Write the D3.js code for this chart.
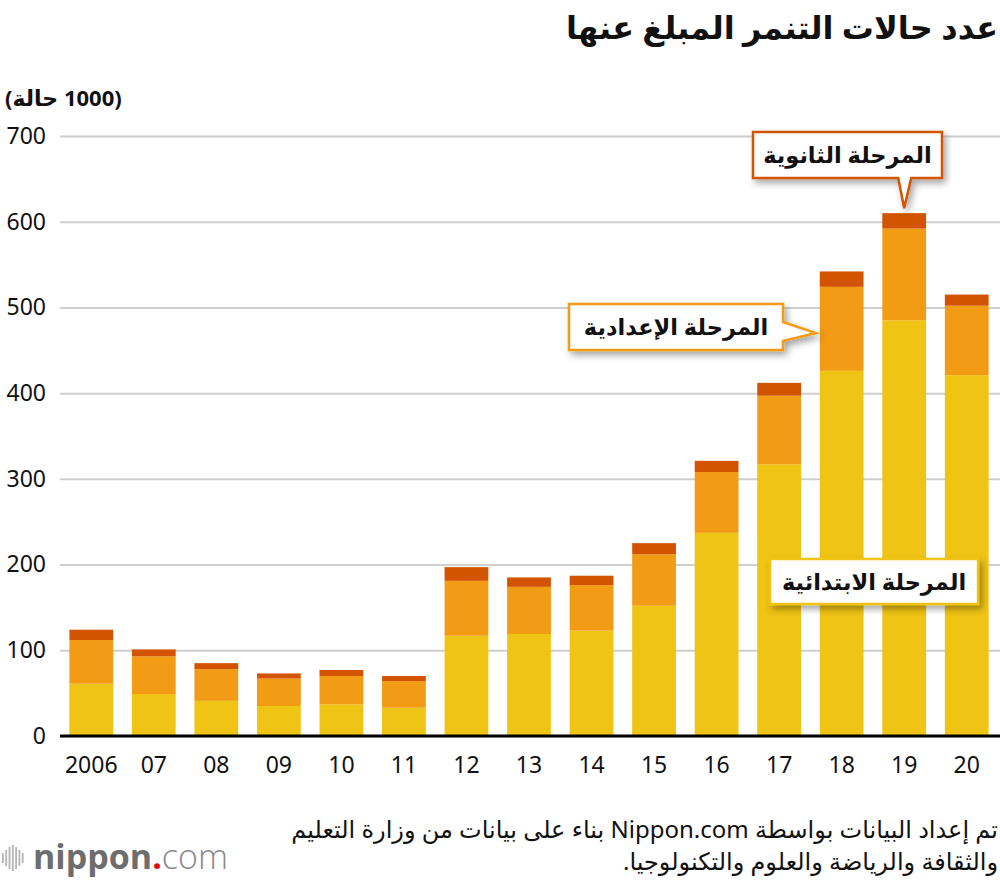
<!DOCTYPE html>
<html lang="ar">
<head>
<meta charset="utf-8">
<script src="https://cdn.jsdelivr.net/npm/d3@7"></script>
<style>
    body { margin: 0; background: #fff; }
    svg { display: block; font-family: "Noto Sans", "DejaVu Sans", sans-serif; }
</style>
</head>
<body>
<svg id="chart" width="1000" height="880"></svg>
<script>
"use strict";
// thousands of cases
const years = ["2006", "07", "08", "09", "10", "11", "12", "13", "14", "15", "16", "17", "18", "19", "20"];
const elementary = [61, 49, 41, 35, 37, 33, 117, 119, 123, 152, 237, 317, 426, 485, 421];
const juniorHigh = [51, 44, 37, 32, 33, 31, 64, 55, 53, 60, 71, 80, 98, 107, 81];
const highSchool = [12, 8, 7, 6, 7, 6, 16, 11, 11, 13, 13, 15, 18, 18, 13];
const yTicks = [0, 100, 200, 300, 400, 500, 600, 700];
const seriesKeys = ["elementary", "junior", "high"];
const seriesNames = ["المرحلة الابتدائية", "المرحلة الإعدادية", "المرحلة الثانوية"];

const colors = { elementary: "#f0c414", junior: "#f29b14", high: "#d35400" };

const svg = d3.select("#chart");

const x = d3.scaleBand()
    .domain(years)
    .range([60, 998])
    .paddingInner(0.3)
    .paddingOuter(0.15);
const y = d3.scaleLinear()
    .domain([0, 700])
    .range([736, 136]);

const rows = years.map((yr, i) => ({
    year: yr, elementary: elementary[i], junior: juniorHigh[i], high: highSchool[i]
}));
const stacked = d3.stack().keys(seriesKeys)(rows);

// drop shadow for the callouts
const defs = svg.append("defs");
defs.append("filter")
    .attr("id", "shadow")
    .attr("x", "-20%").attr("y", "-30%")
    .attr("width", "140%").attr("height", "170%")
    .append("feDropShadow")
    .attr("dx", 3).attr("dy", 4)
    .attr("stdDeviation", 3.5)
    .attr("flood-color", "#000")
    .attr("flood-opacity", 0.35);

// title
svg.append("text")
    .attr("x", 998).attr("y", 39)
    .attr("direction", "rtl")
    .attr("text-anchor", "start")
    .style("font-size", "32px")
    .style("font-weight", "bold")
    .style("fill", "#111")
    .text("عدد حالات التنمر المبلغ عنها");

// unit
svg.append("text")
    .attr("x", 5).attr("y", 106)
    .attr("direction", "rtl")
    .attr("text-anchor", "end")
    .style("font-size", "22px")
    .style("font-weight", "bold")
    .style("fill", "#111")
    .text("(1000 حالة)");

// grid
const yAxis = d3.axisLeft(y)
    .tickValues(yTicks)
    .tickSize(-940)
    .tickPadding(14)
    .tickFormat(d3.format("d"));
const gy = svg.append("g")
    .attr("transform", "translate(60,0)")
    .call(yAxis);
gy.select(".domain").remove();
gy.selectAll(".tick line")
    .attr("stroke", "#cfcfcf")
    .attr("stroke-width", 2);
gy.selectAll(".tick text")
    .attr("fill", "#111")
    .style("font-size", "23px")
    .style("font-family", "\"Noto Sans\", sans-serif");

// bars
svg.append("g")
    .selectAll("g")
    .data(stacked)
    .join("g")
    .attr("fill", s => colors[s.key])
    .selectAll("rect")
    .data(s => s)
    .join("rect")
    .attr("x", d => x(d.data.year))
    .attr("width", x.bandwidth())
    .attr("y", d => y(d[1]))
    .attr("height", d => y(d[0]) - y(d[1]));

// baseline
const xAxis = d3.axisBottom(x).tickSize(0).tickPadding(21);
const gx = svg.append("g")
    .attr("transform", `translate(0,${y(0)})`)
    .call(xAxis);
gx.select(".domain").remove();
gx.selectAll(".tick text")
    .attr("fill", "#111")
    .style("font-size", "23px")
    .style("font-family", "\"Noto Sans\", sans-serif");
svg.append("line")
    .attr("x1", 60).attr("x2", 1000)
    .attr("y1", y(0)).attr("y2", y(0))
    .attr("stroke", "#000")
    .attr("stroke-width", 3);

// callouts
const bw = x.bandwidth();
const callout = (box, label, stroke, tip) => {
    const g = svg.append("g").attr("filter", "url(#shadow)");
    let d = `M${box.x},${box.y}H${box.x + box.w}`;
    if (tip && tip.side === "right") {
        d += `V${tip.y0}L${tip.x},${tip.y}L${box.x + box.w},${tip.y1}V${box.y + box.h}H${box.x}Z`;
    } else if (tip && tip.side === "bottom") {
        d += `V${box.y + box.h}H${tip.x1}L${tip.x},${tip.y}L${tip.x0},${box.y + box.h}H${box.x}Z`;
    } else {
        d += `V${box.y + box.h}H${box.x}Z`;
    }
    g.append("path")
        .attr("d", d)
        .attr("fill", "#fff")
        .attr("stroke", stroke)
        .attr("stroke-width", 2.5)
        .attr("stroke-linejoin", "miter");
    svg.append("text")
        .attr("x", box.x + box.w / 2)
        .attr("y", box.y + box.h / 2 + 8)
        .attr("text-anchor", "middle")
        .attr("direction", "rtl")
        .style("font-size", "22.5px")
        .style("font-weight", "bold")
        .style("fill", "#111")
        .text(label);
};

const i19 = years.indexOf("19");
const top19 = y(elementary[i19] + juniorHigh[i19] + highSchool[i19]) - 5;
const cx19 = x("19") + bw / 2;
callout({ x: 753, y: 132, w: 189, h: 46 }, seriesNames[2], colors.high,
    { side: "bottom", x: cx19, y: top19, x0: cx19 - 6, x1: cx19 + 7 });

const i18 = years.indexOf("18");
const mid18 = y(elementary[i18] + juniorHigh[i18] * 0.45);
callout({ x: 569, y: 304, w: 214, h: 46 }, seriesNames[1], colors.junior,
    { side: "right", x: x("18") - 4, y: mid18, y0: 322, y1: 341 });

callout({ x: 770, y: 559, w: 208, h: 45 }, seriesNames[0], colors.elementary, null);

// source
const source = svg.append("text")
    .attr("direction", "rtl")
    .attr("text-anchor", "start")
    .style("font-size", "24px")
    .style("fill", "#111");
source.append("tspan")
    .attr("x", 998).attr("y", 838)
    .text("تم إعداد البيانات بواسطة Nippon.com بناء على بيانات من وزارة التعليم");
source.append("tspan")
    .attr("x", 998).attr("y", 870)
    .text("والثقافة والرياضة والعلوم والتكنولوجيا.");

// logo
const logo = svg.append("g").attr("transform", "translate(0,845)");
const waveHeights = [10, 16, 22, 26, 22, 16, 10];
logo.selectAll("rect")
    .data(waveHeights)
    .join("rect")
    .attr("x", (h, i) => 2 + i * 3.3)
    .attr("y", h => 13 - h / 2)
    .attr("width", 1.8)
    .attr("height", h => h)
    .attr("fill", "#b5b5b5");
const logoText = logo.append("text")
    .attr("x", 33).attr("y", 24)
    .style("font-family", "\"Open Sans\", sans-serif")
    .style("font-size", "34px");
logoText.append("tspan").style("font-weight", "bold").style("fill", "#6d6d6d").text("nippon");
logoText.append("tspan").style("font-weight", "bold").style("fill", "#e60012").text(".");
logoText.append("tspan").style("font-weight", "300").style("fill", "#8a8a8a").text("com");
</script>
</body>
</html>
